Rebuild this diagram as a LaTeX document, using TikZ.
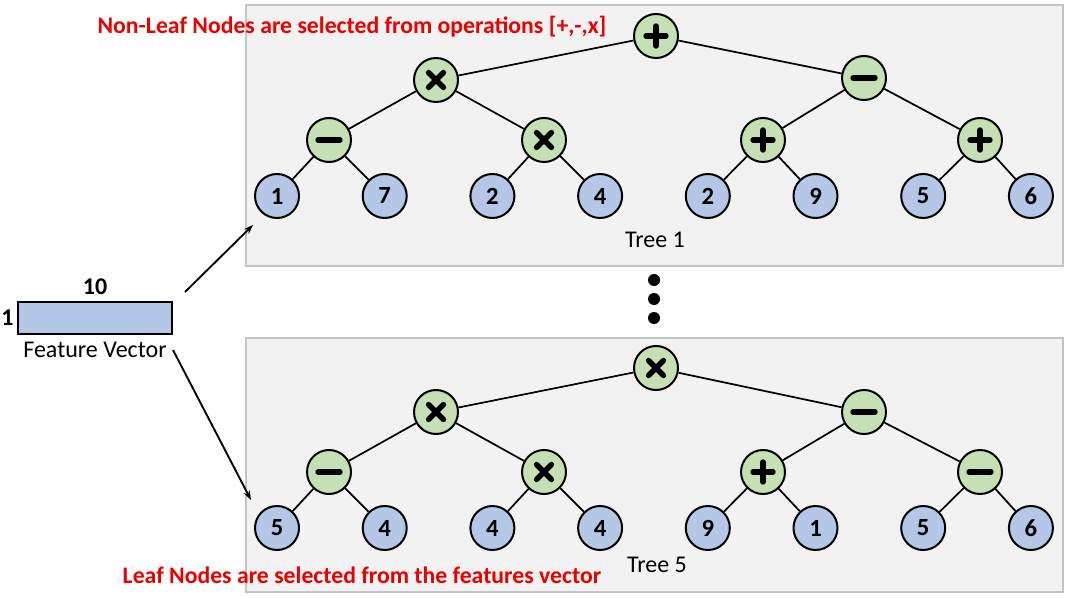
\documentclass[tikz,border=0pt]{standalone}
\usepackage{fontspec}
\setmainfont{Carlito}
\usetikzlibrary{arrows.meta,positioning}
\definecolor{gpGreen}{RGB}{197, 224, 180}
\definecolor{gpBlue}{RGB}{180, 199, 231}
\definecolor{gpPanel}{RGB}{242, 242, 242}
\definecolor{gpPanelLine}{RGB}{196, 196, 196}
\definecolor{gpRed}{RGB}{235, 0, 0}

\begin{document}
\begin{tikzpicture}[
  x=0.75pt, y=-0.75pt,
  panel/.style={fill=gpPanel, draw=gpPanelLine, line width=0.8pt},
  gpnode/.style={
    circle,
    draw,
    line width=1.5pt,
    minimum size=33pt,
    inner sep=0pt,
    font=\bfseries\fontsize{18.5}{20}\selectfont
  },
  leaf/.style={gpnode, fill=gpBlue},
  op/.style={gpnode, fill=gpGreen},
  sym/.style={line width=4pt, line cap=round},
  opplus/.style={op, path picture={
    \draw[sym] ([xshift=-7.5pt]path picture bounding box.center) -- ([xshift=7.5pt]path picture bounding box.center);
    \draw[sym] ([yshift=-7.5pt]path picture bounding box.center) -- ([yshift=7.5pt]path picture bounding box.center);}},
  opminus/.style={op, path picture={
    \draw[sym] ([xshift=-8.25pt]path picture bounding box.center) -- ([xshift=8.25pt]path picture bounding box.center);}},
  optimes/.style={op, path picture={
    \draw[sym] ([shift={(-5.6pt,-5.6pt)}]path picture bounding box.center) -- ([shift={(5.6pt,5.6pt)}]path picture bounding box.center);
    \draw[sym] ([shift={(-5.6pt,5.6pt)}]path picture bounding box.center) -- ([shift={(5.6pt,-5.6pt)}]path picture bounding box.center);}},
  edge/.style={line width=1.3pt},
  arrow/.style={-{Stealth[length=7pt,width=5pt]}, line width=1.4pt},
  note/.style={text=gpRed, font=\bfseries\fontsize{17.8}{20}\selectfont},
  caption/.style={font=\fontsize{18}{20}\selectfont},
  dot/.style={circle, fill=black, inner sep=0pt, minimum size=9pt}
]
  \useasboundingbox (0,0) rectangle (1069,598);

  % panels
  \draw[panel] (246,5) rectangle (1063,266);
  \draw[panel] (246,338) rectangle (1063,592);

  % tree 1
  \node[opplus]  (t1root) at (656,36) {};
  \node[optimes] (t1opa) at (436,80) {};
  \node[opminus] (t1opb) at (864,78) {};
  \node[opminus] (t1mida) at (329,140) {};
  \node[optimes] (t1midb) at (544,140) {};
  \node[opplus]  (t1midc) at (763,140) {};
  \node[opplus]  (t1midd) at (980,140) {};
  \foreach \v [count=\i] in {1,7,2,4,2,9,5,6}
    \node[leaf] (t1leaf\i) at ({277+107.7*(\i-1)},196) {\v};
  \node[caption] (t1name) at (655,240) {Tree 1};

  % tree 5
  \node[optimes] (t5root) at (656,368) {};
  \node[optimes] (t5opa) at (436,412) {};
  \node[opminus] (t5opb) at (864,412) {};
  \node[opminus] (t5mida) at (329,472) {};
  \node[optimes] (t5midb) at (544,472) {};
  \node[opplus]  (t5midc) at (763,472) {};
  \node[opminus] (t5midd) at (980,472) {};
  \foreach \v [count=\i] in {5,4,4,4,9,1,5,6}
    \node[leaf] (t5leaf\i) at ({277+107.7*(\i-1)},528) {\v};
  \node[caption] (t5name) at (657,565) {Tree 5};

  % edges of both trees
  \foreach \t in {1,5}
    \foreach \p/\c in {root/opa, root/opb, opa/mida, opa/midb, opb/midc, opb/midd,
                       mida/leaf1, mida/leaf2, midb/leaf3, midb/leaf4,
                       midc/leaf5, midc/leaf6, midd/leaf7, midd/leaf8}
      \draw[edge] (t\t\p) -- (t\t\c);

  % dots between trees
  \foreach \y [count=\i] in {280,299,318}
    \node[dot] (gap\i) at (654,\y) {};

  % feature vector
  \node[draw, line width=1.5pt, fill=gpBlue, minimum width=115.5pt, minimum height=24pt] (vec) at (95,318) {};
  \node[font=\bfseries\fontsize{18}{20}\selectfont, above=1pt of vec] (veclen) {10};
  \node[font=\bfseries\fontsize{18}{20}\selectfont, left=-1pt of vec] (vecrows) {1};
  \node[caption, below=2pt of vec] (vecname) {Feature Vector};

  % arrows to the trees
  \coordinate (vecup) at (185,292);
  \coordinate (t1in) at (253,225);
  \coordinate (vecdown) at (173,350);
  \coordinate (t5in) at (251,500);
  \draw[arrow] (vecup) -- (t1in);
  \draw[arrow] (vecdown) -- (t5in);

  % notes
  \node[note] (opsnote) at (352,27) {Non-Leaf Nodes are selected from operations [+,-,x]};
  \node[note] (leafnote) at (362,575) {Leaf Nodes are selected from the features vector};
\end{tikzpicture}
\end{document}
